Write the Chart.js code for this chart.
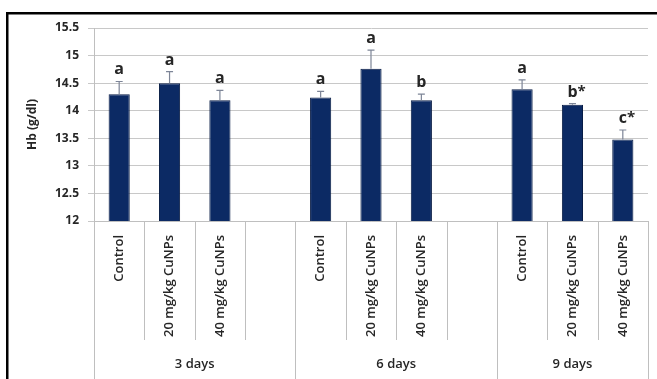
<!DOCTYPE html>
<html>
<head>
<meta charset="utf-8">
<script src="https://cdn.jsdelivr.net/npm/chart.js@4"></script>
<style>
  html, body { margin: 0; padding: 0; background: #fff; }
  canvas { display: block; }
</style>
</head>
<body>
<canvas id="hb-chart" width="657" height="379"></canvas>
<script>
// categories: three groups, each followed by an empty slot (except the last)
const categories = [
  "Control", "20 mg/kg CuNPs", "40 mg/kg CuNPs", "",
  "Control", "20 mg/kg CuNPs", "40 mg/kg CuNPs", "",
  "Control", "20 mg/kg CuNPs", "40 mg/kg CuNPs",
];
const hbValues = [14.30, 14.50, 14.19, null, 14.24, 14.76, 14.19, null, 14.39, 14.11, 13.48];
const hbErrors = [0.23, 0.21, 0.18, null, 0.11, 0.34, 0.11, null, 0.17, 0.02, 0.17];
const letters = ["a", "a", "a", "", "a", "a", "b", "", "a", "b*", "c*"];
const groupLabels = ["3 days", "6 days", "9 days"];
const groupSizes = [4, 4, 3];

const textColor = "#262626";
const font = "'Open Sans', sans-serif";

// error bars, significance letters, category dividers, group names and frame
const extras = {
  id: "extras",
  afterDatasetsDraw(chart) {
    const { ctx, scales: { x, y } } = chart;
    ctx.save();
    ctx.strokeStyle = "#7d8597";
    ctx.lineWidth = 1.2;
    hbValues.forEach((v, i) => {
      if (v == null) return;
      const cx = x.getPixelForValue(i);
      const y0 = y.getPixelForValue(v);
      const y1 = y.getPixelForValue(v + hbErrors[i]);
      ctx.beginPath();
      ctx.moveTo(cx, y0);
      ctx.lineTo(cx, y1);
      ctx.moveTo(cx - 3.5, y1);
      ctx.lineTo(cx + 3.5, y1);
      ctx.stroke();

      const txt = letters[i];
      if (!txt) return;
      const main = txt.charAt(0);
      const star = txt.slice(1);
      ctx.fillStyle = textColor;
      ctx.font = "bold 16px " + font;
      ctx.textAlign = "center";
      ctx.textBaseline = "alphabetic";
      const base = y1 - 7;
      ctx.fillText(main, cx, base);
      if (star) {
        const w = ctx.measureText(main).width;
        ctx.font = "bold 15px " + font;
        ctx.textAlign = "left";
        ctx.fillText(star, cx + w / 2, base - 1);
      }
    });
    ctx.restore();
  },
  afterDraw(chart) {
    const { ctx, scales: { x }, chartArea } = chart;
    const h = chart.height;
    ctx.save();
    ctx.strokeStyle = "#bfbfbf";
    ctx.lineWidth = 1;
    const groupEdges = [0];
    groupSizes.forEach(s => groupEdges.push(groupEdges[groupEdges.length - 1] + s));
    for (let i = 0; i <= categories.length; i++) {
      const bx = Math.round(x.getPixelForValue(i - 0.5)) + 0.5;
      const tall = groupEdges.includes(i);
      ctx.beginPath();
      ctx.moveTo(bx, chartArea.bottom);
      ctx.lineTo(bx, tall ? h : chartArea.bottom + 119);
      ctx.stroke();
    }
    ctx.fillStyle = textColor;
    ctx.font = "600 13px " + font;
    ctx.textAlign = "center";
    ctx.textBaseline = "middle";
    groupLabels.forEach((g, k) => {
      const a = x.getPixelForValue(groupEdges[k] - 0.5);
      const b = x.getPixelForValue(groupEdges[k + 1] - 0.5);
      ctx.fillText(g, (a + b) / 2, 364);
    });
    // black frame remains of the figure border
    ctx.fillStyle = "#000";
    ctx.fillRect(6, 12, chart.width - 6, 2.5);
    ctx.fillRect(6, 12, 2.5, h - 12);
    ctx.restore();
  },
};

new Chart(document.getElementById("hb-chart"), {
  type: "bar",
  data: {
    labels: categories,
    datasets: [
      {
        label: "Hb (g/dl)",
        data: hbValues,
        backgroundColor: "#0c2a64",
        borderColor: "#081c45",
        borderWidth: 1,
        categoryPercentage: 1,
        barPercentage: 0.42,
      },
    ],
  },
  options: {
    responsive: false,
    animation: false,
    layout: { padding: { top: 28, right: 9, left: 0, bottom: 0 } },
    plugins: { legend: { display: false }, tooltip: { enabled: false } },
    scales: {
      x: {
        afterFit: s => { s.height = 158; },
        grid: { display: false, drawTicks: false },
        border: { display: true, color: "#bfbfbf", width: 1 },
        ticks: {
          autoSkip: false,
          minRotation: 90,
          maxRotation: 90,
          padding: 14,
          color: textColor,
          font: { family: font, size: 13, weight: "600" },
        },
      },
      y: {
        min: 12,
        max: 15.5,
        afterFit: s => { s.width = 94; },
        grid: { color: "#c8c8c8", tickLength: 6 },
        border: { display: true, color: "#bfbfbf", width: 1 },
        ticks: {
          stepSize: 0.5,
          padding: 9,
          color: textColor,
          font: { family: font, size: 12, weight: "bold" },
          callback: v => String(+v.toFixed(1)),
        },
        title: {
          display: true,
          text: "Hb (g/dl)",
          color: textColor,
          padding: { top: 25, bottom: 0 },
          font: { family: font, size: 12, weight: "bold" },
        },
      },
    },
  },
  plugins: [extras],
});
</script>
</body>
</html>
